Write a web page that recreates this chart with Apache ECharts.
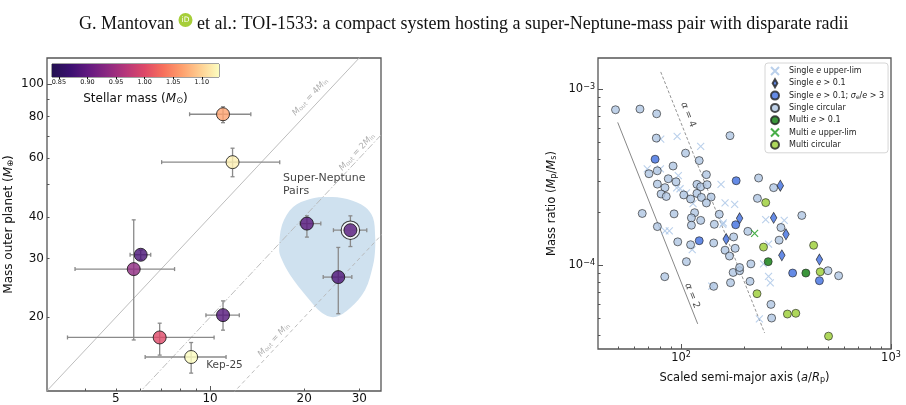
<!DOCTYPE html>
<html>
<head>
<meta charset="utf-8">
<script src="https://cdn.jsdelivr.net/npm/echarts@6/dist/echarts.min.js"></script>
<style>
  html, body { margin: 0; background: #fff; }
  #chart { width: 906px; height: 405px; }
</style>
</head>
<body>
<div id="chart"></div>
<script>
// ---- left panel: inner vs outer planet mass (Earth masses) ----
const innerMass   = [11.0, 11.8, 20.4, 28.1, 25.7, 11.0, 6.0, 5.7, 6.9, 8.7];
const outerMass   = [81.3, 58.4, 38.2, 36.5, 26.4, 20.3, 30.8, 27.9, 17.4, 15.2];
const stellarMass = [1.067, 1.12, 0.893, 0.89, 0.885, 0.89, 0.88, 0.937, 1.0, 1.13];
const innerLo = [8.6, 7.0, 19.4, 24.8, 23.0, 9.7, 5.55, 3.7, 3.5, 6.2];
const innerHi = [13.5, 16.7, 22.6, 31.7, 28.4, 12.4, 6.46, 7.7, 10.3, 11.25];
const outerLo = [76.7, 52.8, 34.8, 32.6, 20.5, 18.3, 29.8, 17.1, 15.4, 13.6];
const outerHi = [85.6, 64.3, 40.3, 40.3, 32.4, 22.4, 31.8, 39.2, 19.2, 16.8];
const pointLabels = ['', '', '', '', '', '', '', '', '', 'Kep-25'];
const ringedIndex = 3; // TOI-1533

// shaded "Super-Neptune Pairs" region outline (inner, outer mass)
const blobInner = [16.63, 16.99, 18.43, 20.88, 23.67, 27.42, 31.31, 33.21, 33.70, 33.70, 33.21, 31.31, 28.04, 25.09, 22.81, 20.42, 18.03, 16.88];
const blobOuter = [31.83, 37.87, 42.87, 45.30, 45.93, 45.30, 42.87, 39.74, 35.30, 31.83, 28.70, 24.14, 21.32, 20.04, 20.60, 23.01, 26.78, 30.12];

// M_out = k * M_in guides
const guideRatios = [1, 2, 4];
const guideLabels = ['{i|M}{s|out} = {i|M}{s|in}', '{i|M}{s|out} = 2{i|M}{s|in}', '{i|M}{s|out} = 4{i|M}{s|in}'];
const guideLabelAt = [[16.0, 17.1], [29.5, 62.6], [20.9, 91.6]];

const leftXLabels = [5, 10, 20, 30];
const leftXMajor = [10];
const leftXMinor = [4, 5, 6, 7, 8, 9, 20, 30];
const leftYLabels = [20, 30, 40, 60, 80, 100];
const leftYMajor = [100];
const leftYMinor = [20, 30, 40, 50, 60, 70, 80, 90];

const cbarLabels = [0.85, 0.90, 0.95, 1.00, 1.05, 1.10];
const cbarMin = 0.838, cbarMax = 1.13;
const magma = ['#231151', '#3b0f70', '#641a80', '#8c2981', '#b73779', '#de4968', '#f7705c', '#fe9f6d', '#fecf92', '#fcfdbf'];

// ---- right panel: mass ratio vs scaled semi-major axis ----
const singleUpperLim = [[80.0, 5.20e-4], [95.8, 5.39e-4], [124, 4.73e-4], [69.0, 3.53e-4], [79.7, 3.53e-4], [97.0, 3.23e-4],
  [95.3, 2.75e-4], [155, 2.88e-4], [162, 2.26e-4], [180, 2.22e-4], [106, 2.58e-4], [114, 2.24e-4], [159, 1.74e-4],
  [83.8, 1.57e-4], [87.9, 1.57e-4], [113, 1.23e-4], [140, 7.62e-5], [158, 1.71e-4], [253, 1.82e-4], [310, 1.80e-4],
  [261, 1.32e-4], [247, 1.02e-4], [261, 8.67e-5], [266, 7.95e-5], [236, 4.97e-5], [98.9, 2.72e-4]];
const singleCircular = [[48.7, 7.63e-4], [63.7, 7.70e-4], [76.5, 7.24e-4], [76.2, 5.27e-4], [171, 5.44e-4], [105, 4.33e-4],
  [122, 3.93e-4], [70.3, 3.31e-4], [77.0, 3.44e-4], [91.6, 3.66e-4], [132, 3.27e-4], [77.1, 2.89e-4], [83.8, 2.76e-4],
  [86.9, 3.10e-4], [94.6, 2.98e-4], [80.3, 2.54e-4], [85.0, 2.46e-4], [103, 2.51e-4], [111, 2.38e-4], [119, 2.88e-4],
  [124, 2.79e-4], [133, 2.87e-4], [119, 2.56e-4], [125, 2.43e-4], [139, 2.44e-4], [132, 2.26e-4], [116, 1.99e-4],
  [92.6, 1.96e-4], [65.3, 1.97e-4], [112, 1.86e-4], [112, 1.69e-4], [124, 1.80e-4], [144, 1.71e-4], [152, 1.95e-4],
  [77.1, 1.66e-4], [96.4, 1.36e-4], [111, 1.31e-4], [143, 1.34e-4], [162, 1.22e-4], [170, 1.13e-4], [181, 1.25e-4],
  [178, 1.45e-4], [208, 1.56e-4], [106, 1.05e-4], [83.6, 8.63e-5], [143, 7.61e-5], [172, 7.98e-5], [177, 9.12e-5],
  [190, 9.33e-5], [190, 9.73e-5], [215, 1.02e-4], [213, 8.12e-5], [234, 3.13e-4], [276, 2.76e-4], [231, 2.40e-4],
  [376, 1.92e-4], [299, 1.64e-4], [293, 1.39e-4], [268, 6.01e-5], [270, 5.03e-5], [501, 9.33e-5], [563, 8.74e-5]];
const singleEcc = [[297, 2.83e-4], [190, 1.85e-4], [276, 1.86e-4], [316, 1.50e-4], [164, 1.41e-4], [302, 1.14e-4], [456, 1.08e-4]];
const singleEccSig = [[75.2, 4.00e-4], [183, 3.02e-4], [122, 1.38e-4], [182, 1.70e-4], [340, 9.05e-5], [456, 8.19e-5]];
const multiEcc = [[260, 1.05e-4], [393, 9.05e-5]];
const multiUpperLim = [[224, 1.52e-4]];
const multiCircular = [[253, 2.27e-4], [247, 1.27e-4], [428, 1.30e-4], [460, 9.20e-5], [230, 6.91e-5], [321, 5.30e-5], [352, 5.35e-5], [504, 3.97e-5]];

const alpha2Line = [[49.9, 6.47e-4], [120, 4.66e-5]];
const alpha4Line = [[80.0, 1.25e-3], [250, 4.14e-5]];
const alphaLabelAt = [[112.9, 6.73e-5], [108, 7.15e-4]];

const rightXLabels = [100, 1000];
const rightXMinor = [50, 60, 70, 80, 90, 200, 300, 400, 500, 600, 700, 800, 900];
const rightYLabels = [1e-4, 1e-3];
const rightYMinor = [4e-5, 5e-5, 6e-5, 7e-5, 8e-5, 9e-5, 2e-4, 3e-4, 4e-4, 5e-4, 6e-4, 7e-4, 8e-4, 9e-4];

const FONT = 'DejaVu Sans';
const FRAME = '#555';
const lg = Math.log10;
const toLog = pts => pts.map(p => [lg(p[0]), lg(p[1])]);

const chart = echarts.init(document.getElementById('chart'));

const subRich = size => ({
  i: { fontStyle: 'italic', fontSize: size, fontFamily: FONT },
  s: { fontSize: size * 0.7, fontFamily: FONT, padding: [size * 0.35, 0, 0, 0] },
  b: { fontSize: size, fontFamily: FONT },
  sup: { fontSize: size * 0.7, fontFamily: FONT, padding: [0, 0, size * 0.45, 0] }
});

function valueAxis(grid, min, max, opts) {
  return Object.assign({
    gridIndex: grid, type: 'value', min: min, max: max,
    axisLine: { show: false }, splitLine: { show: false }
  }, opts);
}
function tickOnly(values, len) {
  return {
    axisTick: { show: true, inside: true, length: len, customValues: values.map(lg), lineStyle: { color: FRAME, width: 1 } },
    axisLabel: { show: false }
  };
}
const linLabel = v => String(Math.round(Math.pow(10, v)));
const powLabel = v => '{b|10}{sup|' + String(Math.round(v)).replace('-', '\u2212') + '}';

function renderBlob(params, api) {
  const pts = blobInner.map((x, i) => api.coord([lg(x), lg(blobOuter[i])]));
  return { type: 'polygon', shape: { points: pts, smooth: 0.35 }, style: { fill: '#cfe1ef' } };
}

function renderErrorBar(params, api) {
  const c = api.coord([api.value(0), api.value(1)]);
  const xl = api.coord([api.value(2), api.value(1)])[0];
  const xh = api.coord([api.value(3), api.value(1)])[0];
  const yl = api.coord([api.value(0), api.value(4)])[1];
  const yh = api.coord([api.value(0), api.value(5)])[1];
  const style = { stroke: '#8a8a8a', lineWidth: 1.3 };
  const cap = 2;
  return {
    type: 'group', children: [
      { type: 'line', shape: { x1: xl, y1: c[1], x2: xh, y2: c[1] }, style },
      { type: 'line', shape: { x1: c[0], y1: yl, x2: c[0], y2: yh }, style },
      { type: 'line', shape: { x1: xl, y1: c[1] - cap, x2: xl, y2: c[1] + cap }, style },
      { type: 'line', shape: { x1: xh, y1: c[1] - cap, x2: xh, y2: c[1] + cap }, style },
      { type: 'line', shape: { x1: c[0] - cap, y1: yl, x2: c[0] + cap, y2: yl }, style },
      { type: 'line', shape: { x1: c[0] - cap, y1: yh, x2: c[0] + cap, y2: yh }, style }
    ]
  };
}

function renderColorbar(params, api) {
  const p0 = api.coord([api.value(0), 0]);
  const p1 = api.coord([api.value(1), 1]);
  return {
    type: 'rect',
    shape: { x: p0[0], y: p1[1], width: p1[0] - p0[0], height: p0[1] - p1[1] },
    style: { fill: new echarts.graphic.LinearGradient(0, 0, 1, 0, magma.map((c, i) => ({ offset: i / (magma.length - 1), color: c }))) }
  };
}

const LX = [lg(3.01), lg(35.2)], LY = [lg(12.02), lg(119.9)];
const RX = [lg(40.2), 3], RY = [-4.474, -2.824];

const crossPath = 'path://M0,0L10,10M10,0L0,10';
const diamondPath = 'path://M3.5,0L7,6L3.5,12L0,6Z';
const circleStyle = fill => ({ color: fill, borderColor: '#222', borderWidth: 0.8 });

const errData = innerMass.map((m, i) => [lg(m), lg(outerMass[i]), lg(innerLo[i]), lg(innerHi[i]), lg(outerLo[i]), lg(outerHi[i])]);
const pointData = innerMass.map((m, i) => {
  const item = { value: [lg(m), lg(outerMass[i]), stellarMass[i]] };
  if (pointLabels[i]) {
    item.label = { show: true, formatter: pointLabels[i], position: 'right', offset: [3, 8], fontSize: 10.5, color: '#111', fontFamily: FONT };
  }
  return item;
});

const legendNames = {
  'Single e upper-lim': 'Single {i|e} upper-lim',
  'Single e > 0.1': 'Single {i|e} > 0.1',
  'Single e > 0.1; sig': 'Single {i|e} > 0.1; {i|\u03c3}{s|e}/{i|e} > 3',
  'Single circular': 'Single circular',
  'Multi e > 0.1': 'Multi {i|e} > 0.1',
  'Multi e upper-lim': 'Multi {i|e} upper-lim',
  'Multi circular': 'Multi circular'
};

const option = {
  animation: false,
  backgroundColor: '#fff',
  title: {
    text: 'G. Mantovan {orc|iD} et al.: TOI-1533: a compact system hosting a super-Neptune-mass pair with disparate radii',
    left: 74, top: 8,
    textStyle: {
      fontFamily: 'Liberation Serif', fontSize: 18, fontWeight: 'normal', color: '#111', lineHeight: 22,
      rich: {
        orc: {
          backgroundColor: '#a6ce39', color: '#fff', borderRadius: 7, width: 14, height: 14, lineHeight: 14,
          align: 'center', fontSize: 7.5, fontFamily: FONT, verticalAlign: 'top', padding: [0, 0, 0, 0]
        }
      }
    }
  },
  grid: [
    { left: 47, top: 58, width: 334, height: 333, show: true, borderColor: FRAME, borderWidth: 1.3, backgroundColor: 'transparent' },
    { left: 598, top: 58, width: 293, height: 291, show: true, borderColor: FRAME, borderWidth: 1.3, backgroundColor: 'transparent' },
    { left: 52, top: 64, width: 167, height: 13, show: true, borderColor: '#111', borderWidth: 0.8, backgroundColor: 'transparent' }
  ],
  xAxis: [
    valueAxis(0, LX[0], LX[1], {
      axisTick: { inside: true, length: 5, customValues: leftXMajor.map(lg), lineStyle: { color: FRAME } },
      axisLabel: { customValues: leftXLabels.map(lg), formatter: linLabel, fontSize: 12, color: '#111', fontFamily: FONT, margin: 2 }
    }),
    valueAxis(0, LX[0], LX[1], Object.assign({ position: 'bottom' }, tickOnly(leftXMinor, 2.5))),
    valueAxis(1, RX[0], RX[1], {
      axisTick: { inside: true, length: 5, customValues: rightXLabels.map(lg), lineStyle: { color: FRAME } },
      axisLabel: { customValues: rightXLabels.map(lg), formatter: powLabel, color: '#111', margin: 2, rich: subRich(11.5) },
      name: 'Scaled semi-major axis ({i|a}/{i|R}{s|p})', nameLocation: 'middle', nameGap: 23,
      nameTextStyle: { fontSize: 11.5, color: '#111', fontFamily: FONT, rich: subRich(11.5) }
    }),
    valueAxis(1, RX[0], RX[1], Object.assign({ position: 'bottom' }, tickOnly(rightXMinor, 2.5))),
    {
      gridIndex: 2, type: 'value', min: cbarMin, max: cbarMax,
      axisLine: { show: false }, splitLine: { show: false },
      axisTick: { inside: false, length: 2, customValues: cbarLabels, lineStyle: { color: '#111' } },
      axisLabel: { customValues: cbarLabels, formatter: v => v.toFixed(2), fontSize: 6.5, color: '#111', fontFamily: FONT, margin: 2 },
      name: 'Stellar mass ({i|M}{s|\u2299})', nameLocation: 'middle', nameGap: 16,
      nameTextStyle: { fontSize: 12, color: '#111', fontFamily: FONT, rich: subRich(12) }
    }
  ],
  yAxis: [
    valueAxis(0, LY[0], LY[1], {
      axisTick: { inside: true, length: 5, customValues: leftYMajor.map(lg), lineStyle: { color: FRAME } },
      axisLabel: { customValues: leftYLabels.map(lg), formatter: linLabel, fontSize: 12, color: '#111', fontFamily: FONT, margin: 3 },
      name: 'Mass outer planet ({i|M}{s|\u2295})', nameLocation: 'middle', nameGap: 32,
      nameTextStyle: { fontSize: 12, color: '#111', fontFamily: FONT, rich: subRich(12) }
    }),
    valueAxis(0, LY[0], LY[1], Object.assign({ position: 'left' }, tickOnly(leftYMinor, 2.5))),
    valueAxis(1, RY[0], RY[1], {
      axisTick: { inside: true, length: 5, customValues: rightYLabels.map(lg), lineStyle: { color: FRAME } },
      axisLabel: { customValues: rightYLabels.map(lg), formatter: powLabel, color: '#111', margin: 3, rich: subRich(11.5) },
      name: 'Mass ratio ({i|M}{s|p}/{i|M}{s|s})', nameLocation: 'middle', nameGap: 40,
      nameTextStyle: { fontSize: 11.5, color: '#111', fontFamily: FONT, rich: subRich(11.5) }
    }),
    valueAxis(1, RY[0], RY[1], Object.assign({ position: 'left' }, tickOnly(rightYMinor, 2.5))),
    { gridIndex: 2, type: 'value', min: 0, max: 1, show: false }
  ],
  visualMap: {
    type: 'continuous', show: false, min: cbarMin, max: cbarMax, dimension: 2,
    seriesIndex: 7, inRange: { color: magma }
  },
  legend: {
    orient: 'vertical', left: 765, top: 63,
    padding: [3, 4, 3, 5], itemGap: 2.3, itemWidth: 10, itemHeight: 8,
    backgroundColor: '#fff', borderColor: '#ccc', borderWidth: 0.8, borderRadius: 3,
    textStyle: {
      fontSize: 8, color: '#222', fontFamily: FONT, lineHeight: 9, padding: [0, 0, 0, 4],
      rich: {
        i: { fontStyle: 'italic', fontSize: 8, fontFamily: FONT, lineHeight: 9 },
        s: { fontSize: 6, fontFamily: FONT, lineHeight: 9, padding: [3, 0, 0, 0] }
      }
    },
    data: [
      { name: 'Single e upper-lim', icon: crossPath },
      { name: 'Single e > 0.1', icon: diamondPath },
      { name: 'Single e > 0.1; sig', icon: 'circle' },
      { name: 'Single circular', icon: 'circle' },
      { name: 'Multi e > 0.1', icon: 'circle' },
      { name: 'Multi e upper-lim', icon: crossPath },
      { name: 'Multi circular', icon: 'circle' }
    ],
    formatter: name => legendNames[name]
  },
  series: [
    // 0 shaded region
    { type: 'custom', xAxisIndex: 0, yAxisIndex: 0, silent: true, renderItem: renderBlob, data: [[0]], z: 1 },
    // 1-3 guide lines
    ...guideRatios.map((k, i) => ({
      type: 'line', xAxisIndex: 0, yAxisIndex: 0, symbol: 'none', silent: true, z: 2,
      lineStyle: { color: '#b5b5b5', width: 0.9, type: [[4, 3], [7, 2, 1.5, 2], 'solid'][i] },
      data: [[lg(1), lg(k)], [lg(40), lg(40 * k)]]
    })),
    // 4 guide labels
    {
      type: 'scatter', xAxisIndex: 0, yAxisIndex: 0, symbolSize: 0, silent: true, z: 3,
      data: guideLabelAt.map((p, i) => ({ value: [lg(p[0]), lg(p[1])], label: { formatter: guideLabels[i] } })),
      label: { show: true, position: 'inside', rotate: 46.8, color: '#9a9a9a', fontSize: 8.5, fontFamily: FONT, rich: subRich(8.5) }
    },
    // 5 error bars
    { type: 'custom', xAxisIndex: 0, yAxisIndex: 0, silent: true, renderItem: renderErrorBar, data: errData, z: 4 },
    // 6 ring around TOI-1533
    {
      type: 'scatter', xAxisIndex: 0, yAxisIndex: 0, symbolSize: 18.5, silent: true, z: 5,
      itemStyle: { color: '#fff', borderColor: '#111', borderWidth: 1.1 },
      data: [[lg(innerMass[ringedIndex]), lg(outerMass[ringedIndex])]]
    },
    // 7 planet pairs coloured by stellar mass
    {
      type: 'scatter', xAxisIndex: 0, yAxisIndex: 0, symbolSize: 13, z: 6,
      itemStyle: { borderColor: '#111', borderWidth: 1 },
      data: pointData
    },
    // 8 region label
    {
      type: 'scatter', xAxisIndex: 0, yAxisIndex: 0, symbolSize: 0, silent: true, z: 6,
      data: [[lg(17.1), lg(49.9)]],
      label: { show: true, position: [0, 0], align: 'left', verticalAlign: 'middle', formatter: 'Super-Neptune\nPairs', fontSize: 11, lineHeight: 13, color: '#111', fontFamily: FONT }
    },
    // 9 colorbar
    { type: 'custom', xAxisIndex: 4, yAxisIndex: 4, silent: true, renderItem: renderColorbar, data: [[cbarMin, cbarMax]], z: 7 },
    // 10-11 alpha lines
    { type: 'line', xAxisIndex: 2, yAxisIndex: 2, symbol: 'none', silent: true, z: 1, lineStyle: { color: '#888', width: 1 }, data: toLog(alpha2Line) },
    { type: 'line', xAxisIndex: 2, yAxisIndex: 2, symbol: 'none', silent: true, z: 1, lineStyle: { color: '#888', width: 0.9, type: [3, 2] }, data: toLog(alpha4Line) },
    // 12 alpha labels
    {
      type: 'scatter', xAxisIndex: 2, yAxisIndex: 2, symbolSize: 0, silent: true, z: 2,
      data: alphaLabelAt.map((p, i) => ({ value: [lg(p[0]), lg(p[1])], label: { formatter: '{i|\u03b1} = ' + (i ? 4 : 2) } })),
      label: { show: true, position: 'inside', rotate: -68.4, color: '#222', fontSize: 9.5, fontFamily: FONT, rich: { i: { fontStyle: 'italic', fontSize: 9.5, fontFamily: FONT } } }
    },
    // right panel samples
    {
      name: 'Single e upper-lim', type: 'scatter', xAxisIndex: 2, yAxisIndex: 2, symbol: crossPath, symbolSize: 7, z: 3,
      itemStyle: { color: 'rgba(0,0,0,0)', borderColor: '#a9c4e6', borderWidth: 1.1 }, data: toLog(singleUpperLim)
    },
    {
      name: 'Single circular', type: 'scatter', xAxisIndex: 2, yAxisIndex: 2, symbol: 'circle', symbolSize: 8, z: 4,
      itemStyle: circleStyle('#afc6e2'), data: toLog(singleCircular)
    },
    {
      name: 'Single e > 0.1', type: 'scatter', xAxisIndex: 2, yAxisIndex: 2, symbol: diamondPath, symbolSize: [6.5, 11], z: 5,
      itemStyle: circleStyle('#3f6ee0'), data: toLog(singleEcc)
    },
    {
      name: 'Single e > 0.1; sig', type: 'scatter', xAxisIndex: 2, yAxisIndex: 2, symbol: 'circle', symbolSize: 8, z: 5,
      itemStyle: circleStyle('#3f6ee0'), data: toLog(singleEccSig)
    },
    {
      name: 'Multi e > 0.1', type: 'scatter', xAxisIndex: 2, yAxisIndex: 2, symbol: 'circle', symbolSize: 8, z: 6,
      itemStyle: circleStyle('#0a7a0a'), data: toLog(multiEcc)
    },
    {
      name: 'Multi e upper-lim', type: 'scatter', xAxisIndex: 2, yAxisIndex: 2, symbol: crossPath, symbolSize: 7, z: 6,
      itemStyle: { color: 'rgba(0,0,0,0)', borderColor: '#1a9a1a', borderWidth: 1.2 }, data: toLog(multiUpperLim)
    },
    {
      name: 'Multi circular', type: 'scatter', xAxisIndex: 2, yAxisIndex: 2, symbol: 'circle', symbolSize: 8, z: 6,
      itemStyle: circleStyle('#9acd32'), data: toLog(multiCircular)
    }
  ]
};

chart.setOption(option);
</script>
</body>
</html>
